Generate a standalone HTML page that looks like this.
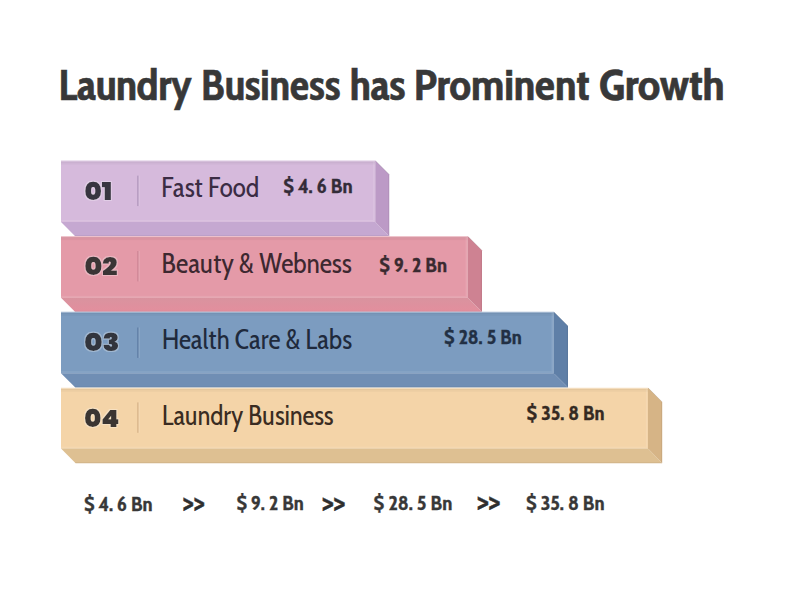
<!DOCTYPE html>
<html lang="en"><head><meta charset="utf-8"><title>Laundry Business has Prominent Growth</title>
<style>html,body{margin:0;padding:0;background:#fff;width:800px;height:600px;overflow:hidden}svg{display:block}</style></head><body>
<svg width="800" height="600" viewBox="0 0 800 600">
<defs><filter id="halo" x="-20%" y="-30%" width="140%" height="160%"><feMorphology in="SourceAlpha" operator="dilate" radius="1.3" result="d"/><feGaussianBlur in="d" stdDeviation="0.5" result="b"/><feFlood flood-color="#ffffff" flood-opacity="0.28"/><feComposite in2="b" operator="in" result="g"/><feMerge><feMergeNode in="g"/><feMergeNode in="SourceGraphic"/></feMerge></filter></defs>
<rect width="800" height="600" fill="#ffffff"/>
<text x="58.5" y="100" font-family="'Cabin Condensed', 'PT Sans Narrow', 'Liberation Sans Narrow', 'Liberation Sans', sans-serif" font-weight="700" font-size="42.9" fill="#383838" stroke="#383838" stroke-width="0.6" textLength="133.5" lengthAdjust="spacingAndGlyphs">Laundry</text>
<text x="201" y="100" font-family="'Cabin Condensed', 'PT Sans Narrow', 'Liberation Sans Narrow', 'Liberation Sans', sans-serif" font-weight="700" font-size="42.9" fill="#383838" stroke="#383838" stroke-width="0.6" textLength="139.5" lengthAdjust="spacingAndGlyphs">Business</text>
<text x="350" y="100" font-family="'Cabin Condensed', 'PT Sans Narrow', 'Liberation Sans Narrow', 'Liberation Sans', sans-serif" font-weight="700" font-size="42.9" fill="#383838" stroke="#383838" stroke-width="0.6" textLength="55.5" lengthAdjust="spacingAndGlyphs">has</text>
<text x="414" y="100" font-family="'Cabin Condensed', 'PT Sans Narrow', 'Liberation Sans Narrow', 'Liberation Sans', sans-serif" font-weight="700" font-size="42.9" fill="#383838" stroke="#383838" stroke-width="0.6" textLength="175.5" lengthAdjust="spacingAndGlyphs">Prominent</text>
<text x="599" y="100" font-family="'Cabin Condensed', 'PT Sans Narrow', 'Liberation Sans Narrow', 'Liberation Sans', sans-serif" font-weight="700" font-size="42.9" fill="#383838" stroke="#383838" stroke-width="0.6" textLength="125.5" lengthAdjust="spacingAndGlyphs">Growth</text>
<g>
<rect x="61" y="160.5" width="314.25" height="61.5" fill="#D6BADC"/>
<rect x="61" y="160.5" width="314.25" height="1" fill="#ffffff" fill-opacity="0.35"/>
<rect x="61" y="161.5" width="314.25" height="1" fill="#000000" fill-opacity="0.07"/>
<rect x="61" y="162.5" width="314.25" height="2" fill="#000000" fill-opacity="0.03"/>
<rect x="373.05" y="161.5" width="1.6" height="60.5" fill="#ffffff" fill-opacity="0.11"/>
<rect x="61" y="220" width="312.05" height="1.5" fill="#ffffff" fill-opacity="0.10"/>
<polygon points="61,222 375.25,222 389.25,236.2 75.2,236.2" fill="#C5A8D1"/>
<polygon points="74.2,235.2 388.25,235.2 389.25,236.2 75.2,236.2" fill="#000000" fill-opacity="0.06"/>
<polygon points="375.25,160.5 389.25,174.5 389.25,236.2 375.25,222" fill="#BC9AC6"/>
<rect x="388.05" y="174.5" width="1.2" height="61.7" fill="#000000" fill-opacity="0.05"/>
<line x1="375.55" y1="160.8" x2="388.95" y2="174.2" stroke="#000000" stroke-opacity="0.10" stroke-width="1"/>
<rect x="137.2" y="175.65" width="1.4" height="30.4" fill="#B297BE"/>
<rect x="138.6" y="175.65" width="1" height="30.4" fill="#ffffff" fill-opacity="0.18"/>
</g>
<g>
<rect x="61" y="236.2" width="406.75" height="61.6" fill="#E49AA8"/>
<rect x="61" y="236.2" width="406.75" height="1" fill="#ffffff" fill-opacity="0.35"/>
<rect x="61" y="237.2" width="406.75" height="1" fill="#000000" fill-opacity="0.07"/>
<rect x="61" y="238.2" width="406.75" height="2" fill="#000000" fill-opacity="0.03"/>
<rect x="465.55" y="237.2" width="1.6" height="60.6" fill="#ffffff" fill-opacity="0.11"/>
<rect x="61" y="295.8" width="404.55" height="1.5" fill="#ffffff" fill-opacity="0.10"/>
<linearGradient id="bg02" x1="0" y1="0" x2="0" y2="1"><stop offset="0" stop-color="#D9939F"/><stop offset="1" stop-color="#E38E9D"/></linearGradient>
<polygon points="61,297.8 467.75,297.8 482,311.8 75,311.8" fill="url(#bg02)"/>
<polygon points="74,310.8 481,310.8 482,311.8 75,311.8" fill="#000000" fill-opacity="0.06"/>
<polygon points="467.75,236.2 482,250.45 482,311.8 467.75,297.8" fill="#CE8292"/>
<rect x="480.8" y="250.45" width="1.2" height="61.35" fill="#000000" fill-opacity="0.05"/>
<line x1="468.05" y1="236.5" x2="481.7" y2="250.15" stroke="#000000" stroke-opacity="0.10" stroke-width="1"/>
<rect x="137.2" y="251" width="1.4" height="30.4" fill="#CF8696"/>
<rect x="138.6" y="251" width="1" height="30.4" fill="#ffffff" fill-opacity="0.18"/>
</g>
<g>
<rect x="61" y="311.8" width="492.75" height="61.5" fill="#7C9CC0"/>
<rect x="61" y="311.8" width="492.75" height="1" fill="#ffffff" fill-opacity="0.35"/>
<rect x="61" y="312.8" width="492.75" height="1" fill="#000000" fill-opacity="0.07"/>
<rect x="61" y="313.8" width="492.75" height="2" fill="#000000" fill-opacity="0.03"/>
<rect x="551.55" y="312.8" width="1.6" height="60.5" fill="#ffffff" fill-opacity="0.11"/>
<rect x="61" y="371.3" width="490.55" height="1.5" fill="#ffffff" fill-opacity="0.10"/>
<polygon points="61,373.3 553.75,373.3 568,387.6 75.3,387.6" fill="#708EB4"/>
<polygon points="74.3,386.6 567,386.6 568,387.6 75.3,387.6" fill="#000000" fill-opacity="0.06"/>
<polygon points="553.75,311.8 568,326.05 568,387.6 553.75,373.3" fill="#5F7FA7"/>
<rect x="566.8" y="326.05" width="1.2" height="61.55" fill="#000000" fill-opacity="0.05"/>
<line x1="554.05" y1="312.1" x2="567.7" y2="325.75" stroke="#000000" stroke-opacity="0.10" stroke-width="1"/>
<rect x="137.2" y="327.5" width="1.4" height="30.4" fill="#5F7DA5"/>
<rect x="138.6" y="327.5" width="1" height="30.4" fill="#ffffff" fill-opacity="0.18"/>
</g>
<g>
<rect x="61" y="387.8" width="587" height="60.8" fill="#F4D4A8"/>
<rect x="61" y="387.8" width="587" height="1" fill="#ffffff" fill-opacity="0.35"/>
<rect x="61" y="388.8" width="587" height="1" fill="#000000" fill-opacity="0.07"/>
<rect x="61" y="389.8" width="587" height="2" fill="#000000" fill-opacity="0.03"/>
<rect x="645.8" y="388.8" width="1.6" height="59.8" fill="#ffffff" fill-opacity="0.11"/>
<rect x="61" y="446.6" width="584.8" height="1.5" fill="#ffffff" fill-opacity="0.10"/>
<polygon points="61,448.6 648,448.6 662.2,463.2 75.6,463.2" fill="#DEC092"/>
<polygon points="74.6,462.2 661.2,462.2 662.2,463.2 75.6,463.2" fill="#000000" fill-opacity="0.06"/>
<polygon points="648,387.8 662.2,402 662.2,463.2 648,448.6" fill="#D6B486"/>
<rect x="661" y="402" width="1.2" height="61.2" fill="#000000" fill-opacity="0.05"/>
<line x1="648.3" y1="388.1" x2="661.9" y2="401.7" stroke="#000000" stroke-opacity="0.10" stroke-width="1"/>
<rect x="137.2" y="402.4" width="1.4" height="30.4" fill="#D9B58A"/>
<rect x="138.6" y="402.4" width="1" height="30.4" fill="#ffffff" fill-opacity="0.18"/>
</g>
<text x="161.3" y="196.8" font-family="'Cabin Condensed', 'PT Sans Narrow', 'Liberation Sans Narrow', 'Liberation Sans', sans-serif" font-weight="400" font-size="28.3" fill="#3B2C44" textLength="97.9" lengthAdjust="spacingAndGlyphs">Fast Food</text>
<text x="161.4" y="272.5" font-family="'Cabin Condensed', 'PT Sans Narrow', 'Liberation Sans Narrow', 'Liberation Sans', sans-serif" font-weight="400" font-size="28.3" fill="#3D2830" textLength="190.3" lengthAdjust="spacingAndGlyphs">Beauty &amp; Webness</text>
<text x="162" y="349" font-family="'Cabin Condensed', 'PT Sans Narrow', 'Liberation Sans Narrow', 'Liberation Sans', sans-serif" font-weight="400" font-size="28.3" fill="#1F2A3C" textLength="190" lengthAdjust="spacingAndGlyphs">Health Care &amp; Labs</text>
<text x="162" y="424.6" font-family="'Cabin Condensed', 'PT Sans Narrow', 'Liberation Sans Narrow', 'Liberation Sans', sans-serif" font-weight="400" font-size="28.3" fill="#3A2C22" textLength="171.4" lengthAdjust="spacingAndGlyphs">Laundry Business</text>
<text x="283.3" y="192.5" font-family="'Cabin Condensed', 'PT Sans Narrow', 'Liberation Sans Narrow', 'Liberation Sans', sans-serif" font-weight="700" font-size="19.7" fill="#332C38" stroke="#332C38" stroke-width="0.3" textLength="69.3" lengthAdjust="spacingAndGlyphs">$ 4. 6 Bn</text>
<text x="379.3" y="271.5" font-family="'Cabin Condensed', 'PT Sans Narrow', 'Liberation Sans Narrow', 'Liberation Sans', sans-serif" font-weight="700" font-size="19.7" fill="#3A2A30" stroke="#3A2A30" stroke-width="0.3" textLength="67.7" lengthAdjust="spacingAndGlyphs">$ 9. 2 Bn</text>
<text x="444" y="344" font-family="'Cabin Condensed', 'PT Sans Narrow', 'Liberation Sans Narrow', 'Liberation Sans', sans-serif" font-weight="700" font-size="19.7" fill="#223044" stroke="#223044" stroke-width="0.3" textLength="77.7" lengthAdjust="spacingAndGlyphs">$ 28. 5 Bn</text>
<text x="526.6" y="419.7" font-family="'Cabin Condensed', 'PT Sans Narrow', 'Liberation Sans Narrow', 'Liberation Sans', sans-serif" font-weight="700" font-size="19.7" fill="#352A22" stroke="#352A22" stroke-width="0.3" textLength="78" lengthAdjust="spacingAndGlyphs">$ 35. 8 Bn</text>
<text x="84" y="511.3" font-family="'Cabin Condensed', 'PT Sans Narrow', 'Liberation Sans Narrow', 'Liberation Sans', sans-serif" font-weight="700" font-size="19.7" fill="#383838" stroke="#383838" stroke-width="0.3" textLength="68.6" lengthAdjust="spacingAndGlyphs">$ 4. 6 Bn</text>
<text x="236.6" y="509.8" font-family="'Cabin Condensed', 'PT Sans Narrow', 'Liberation Sans Narrow', 'Liberation Sans', sans-serif" font-weight="700" font-size="19.7" fill="#383838" stroke="#383838" stroke-width="0.3" textLength="67.2" lengthAdjust="spacingAndGlyphs">$ 9. 2 Bn</text>
<text x="373.6" y="509.8" font-family="'Cabin Condensed', 'PT Sans Narrow', 'Liberation Sans Narrow', 'Liberation Sans', sans-serif" font-weight="700" font-size="19.7" fill="#383838" stroke="#383838" stroke-width="0.3" textLength="78.8" lengthAdjust="spacingAndGlyphs">$ 28. 5 Bn</text>
<text x="526" y="509.6" font-family="'Cabin Condensed', 'PT Sans Narrow', 'Liberation Sans Narrow', 'Liberation Sans', sans-serif" font-weight="700" font-size="19.7" fill="#383838" stroke="#383838" stroke-width="0.3" textLength="78.6" lengthAdjust="spacingAndGlyphs">$ 35. 8 Bn</text>
<text x="84.5" y="200.25" font-family="'Poppins', 'Montserrat', 'Liberation Sans', sans-serif" font-weight="900" font-size="25" fill="#393640" stroke="#393640" stroke-width="0.15" filter="url(#halo)" textLength="27.7" lengthAdjust="spacingAndGlyphs">01</text>
<text x="84.5" y="275.35" font-family="'Poppins', 'Montserrat', 'Liberation Sans', sans-serif" font-weight="900" font-size="25" fill="#3A3436" stroke="#3A3436" stroke-width="0.15" filter="url(#halo)" textLength="32.9" lengthAdjust="spacingAndGlyphs">02</text>
<text x="84.15" y="351.2" font-family="'Poppins', 'Montserrat', 'Liberation Sans', sans-serif" font-weight="900" font-size="25" fill="#30343E" stroke="#30343E" stroke-width="0.15" filter="url(#halo)" textLength="35.2" lengthAdjust="spacingAndGlyphs">03</text>
<text x="84.15" y="427.35" font-family="'Poppins', 'Montserrat', 'Liberation Sans', sans-serif" font-weight="900" font-size="25" fill="#3A3632" stroke="#3A3632" stroke-width="0.15" filter="url(#halo)" textLength="35.1" lengthAdjust="spacingAndGlyphs">04</text>
<text x="183.12" y="513.1" font-family="'Cabin Condensed', 'PT Sans Narrow', 'Liberation Sans Narrow', 'Liberation Sans', sans-serif" font-weight="700" font-size="30.4" fill="#2E2E2E" stroke="#2E2E2E" stroke-width="0.5" textLength="21.68" lengthAdjust="spacingAndGlyphs">&gt;&gt;</text>
<text x="322.2" y="513.1" font-family="'Cabin Condensed', 'PT Sans Narrow', 'Liberation Sans Narrow', 'Liberation Sans', sans-serif" font-weight="700" font-size="30.4" fill="#2E2E2E" stroke="#2E2E2E" stroke-width="0.5" textLength="23.3" lengthAdjust="spacingAndGlyphs">&gt;&gt;</text>
<text x="477.2" y="511.55" font-family="'Cabin Condensed', 'PT Sans Narrow', 'Liberation Sans Narrow', 'Liberation Sans', sans-serif" font-weight="700" font-size="30.4" fill="#2E2E2E" stroke="#2E2E2E" stroke-width="0.5" textLength="23.38" lengthAdjust="spacingAndGlyphs">&gt;&gt;</text>
</svg>
</body></html>
